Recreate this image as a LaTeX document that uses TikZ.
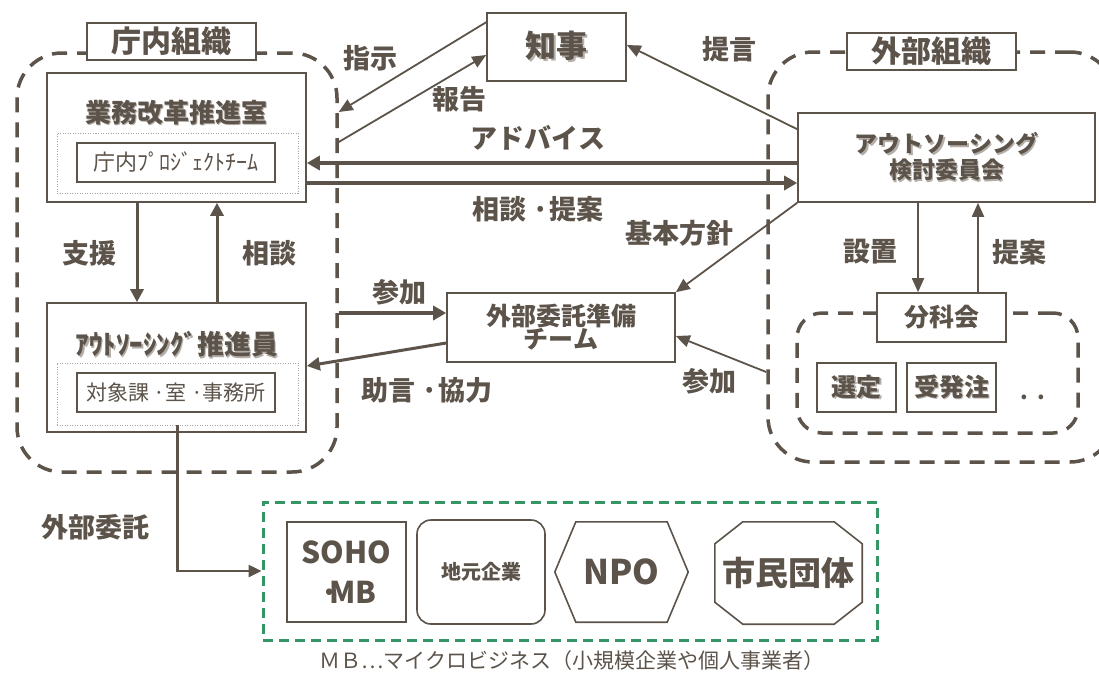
\documentclass[tikz,border=0pt]{standalone}
\usepackage{fontspec}
\setmainfont{Noto Sans CJK JP}
\usetikzlibrary{arrows.meta}
\definecolor{ink}{RGB}{92,83,74}
\definecolor{shad}{RGB}{180,174,168}
\definecolor{grn}{RGB}{52,150,102}
\newcommand\shd[1]{\leavevmode\rlap{\textcolor{shad}{\kern1.6pt\raisebox{-1.6pt}{#1}}}#1}
\newcommand\fs[1]{\fontsize{#1}{#1}\selectfont}
\begin{document}
\begin{tikzpicture}[x=1pt,y=-1pt,color=ink,
  region/.style={draw=ink,line width=3.5pt,dash pattern=on 15pt off 10pt,rounded corners=45pt,inner sep=0pt},
  greenbox/.style={draw=grn,line width=3pt,dash pattern=on 10pt off 6pt,inner sep=0pt},
  tag/.style={draw=ink,fill=white,line width=2pt,inner sep=0pt,font=\bfseries\fs{30}},
  box/.style={draw=ink,fill=white,line width=1.6pt,inner sep=0pt},
  dotbox/.style={draw=black!35,line width=0.6pt,dash pattern=on 1pt off 1.5pt,inner sep=0pt},
  lbl/.style={inner sep=0pt,font=\bfseries\fs{27}},
  thinarr/.style={draw=ink,line width=1.8pt,-{Triangle[length=14pt,width=12pt]}},
  thickarr/.style={draw=ink,line width=4pt,-{Triangle[length=13pt,width=14pt]}},
  midarr/.style={draw=ink,line width=3pt,-{Triangle[length=13pt,width=13pt]}}]
\useasboundingbox (0,0) rectangle (1099,675);

% regions
\node[region,minimum width=320pt,minimum height=419pt] (intra) at (177,262.5) {};
\node[region,minimum width=347pt,minimum height=410pt] (extra) at (941.5,257) {};
\node[region,rounded corners=25pt,minimum width=281pt,minimum height=120pt] (subreg) at (937.5,373) {};
\node[greenbox,minimum width=614pt,minimum height=138pt] (grnbox) at (570,571) {};

\node[tag,minimum width=169pt,minimum height=37pt] (tagL) at (171.5,41.5) {庁内組織};
\node[tag,minimum width=169pt,minimum height=37pt] (tagR) at (931.5,51.5) {外部組織};

% left boxes
\node[box,minimum width=259pt,minimum height=129pt] (kaikaku) at (176.5,137.5) {};
\node[dotbox,minimum width=241pt,minimum height=60pt] (kdot) at (177.5,163) {};
\node[box,minimum width=198pt,minimum height=39pt,font=\fs{22}] (pt) at (176,162.5) {庁内ﾌﾟﾛｼﾞｪｸﾄﾁｰﾑ};
\node[lbl,font=\bfseries\fs{26}] (kaikakuT) at (176,113) {\shd{業務改革推進室}};

\node[box,minimum width=259pt,minimum height=129pt] (suishin) at (176.5,367.5) {};
\node[dotbox,minimum width=241pt,minimum height=62pt] (sdot) at (177.5,394) {};
\node[box,minimum width=198pt,minimum height=39pt,font=\fs{21}] (taisho) at (176,392.5) {対象課 ·室 ·事務所};
\node[lbl,font=\bfseries\fs{27}] (suishinT) at (177,345) {\shd{ｱｳﾄｿｰｼﾝｸﾞ推進員}};

% center / right boxes
\node[box,minimum width=139pt,minimum height=68pt,font=\bfseries\fs{31}] (chiji) at (556.5,47) {\shd{知事}};
\node[box,minimum width=297pt,minimum height=89pt,align=center,font=\bfseries\fontsize{23}{26}\selectfont] (iinkai) at (946.5,157.5) {\shd{アウトソーシング}\\\shd{検討委員会}};
\node[box,minimum width=228pt,minimum height=69pt,align=center,font=\bfseries\fontsize{25}{23}\selectfont] (junbi) at (561,327.5) {外部委託準備\\チーム};
\node[box,minimum width=129pt,minimum height=49pt,font=\bfseries\fs{25}] (bunka) at (941.5,317.5) {分科会};
\node[box,minimum width=79pt,minimum height=49pt,font=\bfseries\fs{25}] (sentei) at (856.5,387.5) {\shd{選定}};
\node[box,minimum width=89pt,minimum height=49pt,font=\bfseries\fs{25}] (hacchu) at (951.5,387.5) {\shd{受発注}};
\node[lbl,font=\bfseries\fs{22}] (more) at (1033,397) {.\hspace{9pt}.};

% green items
\node[box,minimum width=119pt,minimum height=100pt,align=center,font=\bfseries\fontsize{30}{40}\selectfont] (soho) at (346.5,572) {SOHO\\\kern4pt·\kern-9pt MB};
\node[box,rounded corners=14pt,minimum width=128pt,minimum height=104pt,font=\bfseries\fs{20}] (jimoto) at (481,572) {地元企業};
\node[inner sep=0pt,minimum width=133pt,minimum height=100pt,font=\bfseries\fs{34}] (npo) at (621.5,572) {NPO};
\draw[line width=1.6pt] (npo.west) -- ([xshift=21pt]npo.north west) -- ([xshift=-21pt]npo.north east) -- (npo.east) -- ([xshift=-21pt]npo.south east) -- ([xshift=21pt]npo.south west) -- cycle;
\node[inner sep=0pt,minimum width=147pt,minimum height=102pt,font=\bfseries\fs{33}] (shimin) at (788.5,573) {市民団体};
\draw[line width=1.6pt] ([xshift=28pt]shimin.north west) -- ([xshift=-28pt]shimin.north east) -- ([yshift=-22pt]shimin.north east) -- ([yshift=22pt]shimin.south east) -- ([xshift=-28pt]shimin.south east) -- ([xshift=28pt]shimin.south west) -- ([yshift=22pt]shimin.south west) -- ([yshift=-22pt]shimin.north west) -- cycle;
\node[inner sep=0pt,font=\fs{21}] (note) at (572,661) {ＭＢ…マイクロビジネス（小規模企業や個人事業者）};

% free ends on region borders
\coordinate (shiE) at (intra.east |- 0,112);
\coordinate (houS) at (intra.east |- 0,142);
\coordinate (sanS) at (intra.east |- 0,313);
\coordinate (sanR) at (extra.west |- 0,372);

% connectors
\draw[thinarr] ([yshift=-10pt]chiji.north west) -- (shiE);
\draw[thinarr] (houS) -- ([yshift=-8pt]chiji.west);
\draw[thinarr] ([yshift=-17pt]iinkai.north west) -- ([yshift=2pt]chiji.east);
\draw[thickarr] ([yshift=-5.5pt]iinkai.west) -- ([yshift=-5.5pt]iinkai.west -| kaikaku.east);
\draw[thickarr] ([yshift=-25.5pt]iinkai.west -| kaikaku.east) -- ([yshift=-25.5pt]iinkai.west);
\draw[thinarr] (iinkai.south west) -- (junbi.north east);
\draw[thickarr] (sanS) -- (sanS -| junbi.west);
\draw[midarr] ([yshift=-15.5pt]junbi.west) -- ([yshift=1.5pt]suishin.east);
\draw[thinarr] (sanR) -- ([yshift=-8.5pt]junbi.east);
\draw[midarr] ([xshift=-39.5pt]kaikaku.south) -- ([xshift=-39.5pt]kaikaku.south |- suishin.north);
\draw[midarr] ([xshift=40.5pt]kaikaku.south |- suishin.north) -- ([xshift=40.5pt]kaikaku.south);
\draw[thinarr] ([xshift=-28.5pt]iinkai.south) -- ([xshift=-28.5pt]iinkai.south |- bunka.north);
\draw[thinarr] ([xshift=36.5pt]bunka.north) -- ([xshift=36.5pt]bunka.north |- iinkai.south);
\draw[draw=ink,line width=2.5pt,-{Triangle[length=13pt,width=12pt]}] (sdot.south) |- (grnbox.west);

% labels
\node[lbl] (lShiji) at (370,58) {指示};
\node[lbl] (lHoukoku) at (459,99) {報告};
\node[lbl] (lTeigen) at (729,49) {提言};
\node[lbl] (lAdvice) at (538,138) {アドバイス};
\node[lbl] (lSoudan) at (538,209) {相談 ·提案};
\node[lbl] (lHoushin) at (679,233) {基本方針};
\node[lbl] (lSankaL) at (399,292) {参加};
\node[lbl] (lJogen) at (427,390) {助言 ·協力};
\node[lbl] (lSankaR) at (709,381) {参加};
\node[lbl] (lShien) at (89,253) {支援};
\node[lbl] (lSoudan2) at (269,253) {相談};
\node[lbl] (lSecchi) at (870,252) {設置};
\node[lbl] (lTeian) at (1019,252) {提案};
\node[lbl] (lGaibu) at (95,527) {外部委託};
\end{tikzpicture}
\end{document}
